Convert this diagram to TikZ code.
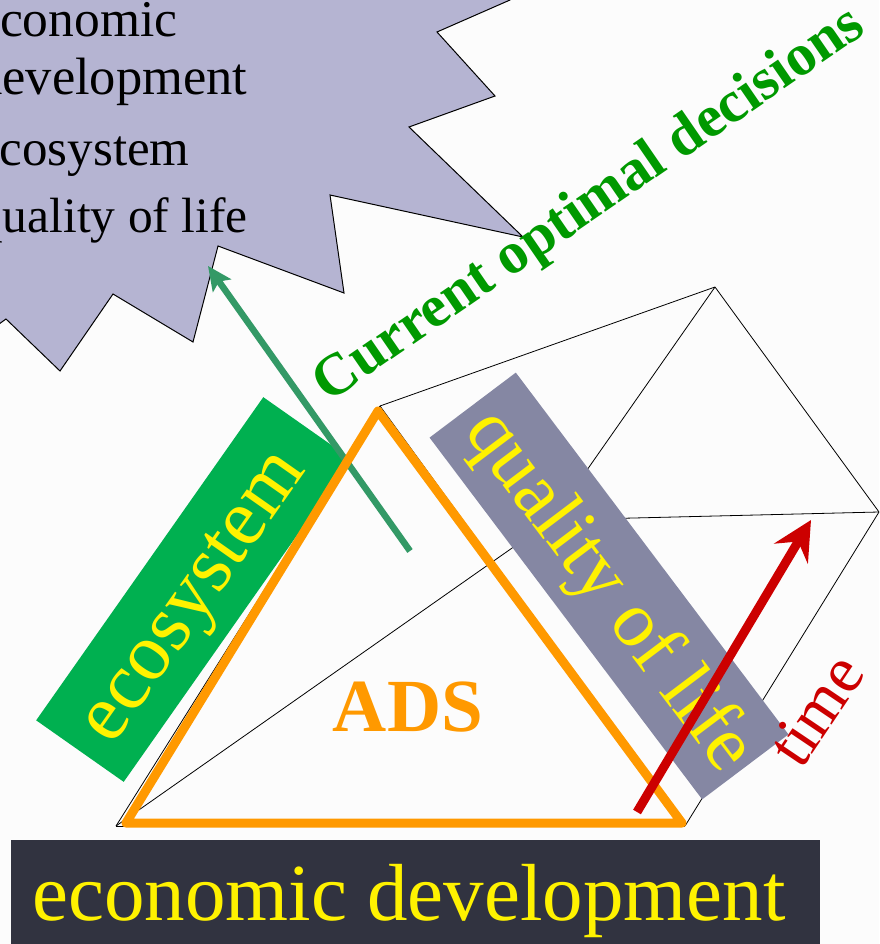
\documentclass[tikz,border=0pt]{standalone}
\usepackage{fontspec}
\setmainfont{Liberation Serif}
\usetikzlibrary{arrows.meta}

\definecolor{pageback}{HTML}{FCFCFC}
\definecolor{starfill}{HTML}{B5B4D2}
\definecolor{ecogreen}{HTML}{00B050}
\definecolor{lifegrey}{HTML}{8587A3}
\definecolor{econdark}{HTML}{313340}
\definecolor{adsorange}{HTML}{FF9900}
\definecolor{timered}{HTML}{CC0000}
\definecolor{goalgreen}{HTML}{009900}
\definecolor{pathgreen}{HTML}{339966}

\newcommand{\fsize}[1]{\fontsize{#1}{#1}\selectfont}

\begin{document}
\begin{tikzpicture}[
            x=1pt,
            y=-1pt,
            banner/.style={rotate=#1, inner sep=0pt, text=yellow},
            listitem/.style={anchor=base west, inner sep=0pt, text=black, font=\fsize{#1}},
            prism/.style={draw=black, line width=0.8pt},
            slab/.style={inner sep=0pt, outer sep=0pt}
        ]
        \useasboundingbox (0,0) rectangle (879,944);
        \clip (0,0) rectangle (879,944);
        \fill[pageback] (0,0) rectangle (879,944);

        % Burst with the list
        \filldraw[fill=starfill, draw=black, line width=1pt]
        (-30,-20) -- (520,-20) -- (510,0) -- (437,32) -- (495,96) -- (409,127) -- (523,237)
        -- (330,195) -- (344,293) -- (218,246) -- (193,342) -- (113,294) -- (60,371)
        -- (6,319) -- (-30,345) -- cycle;
        \node[listitem=51.5] (itemecon) at (-23,37) {economic};
        \node[listitem=52.5] (itemdev) at (-24,95) {development};
        \node[listitem=51] (itemeco) at (-23,165) {ecosystem};
        \node[listitem=49.5] (itemlife) at (-22,232) {quality of life};

        % Prism corners
        \coordinate (a) at (116,826);
        \coordinate (b) at (685,826);
        \coordinate (c) at (380,406);
        \coordinate (d) at (715,287);
        \coordinate (e) at (879,512);
        \coordinate (f) at (552,520);

        % Prism edges
        \path[prism]
        (a) edge (b)
        (a) edge (c)
        (c) edge (b)
        (c) edge (d)
        (d) edge (e)
        (e) edge (b)
        (a) edge (f)
        (f) edge (e)
        (f) edge (d);

        % Side labels
        \node[slab, fill=ecogreen, rotate=54.9, minimum width=395pt, minimum height=107pt] (ecoslab) at (193.5,589.5) {};
        \node[banner=54.9, font=\fsize{81}] (ecolabel) at (198,600) {ecosystem};
        \node[slab, fill=lifegrey, rotate=-53, minimum width=453pt, minimum height=108pt] (lifeslab) at (609,586) {};
        \node[banner=-53, font=\fsize{79}] (lifelabel) at (608,592) {quality of life};
        \node[slab, fill=econdark, anchor=north west, minimum width=809pt, minimum height=110pt] (econslab) at (11,840) {};
        \node[anchor=base, inner sep=0pt, text=yellow, font=\fsize{81}] (econlabel) at (409,920) {economic development};

        % Arrow out of the triangle
        \coordinate (pathstart) at (410,551);
        \coordinate (pathend) at (208,266);
        \draw[-{Stealth[length=24pt, width=22pt, inset=5pt]}, pathgreen, line width=6.5pt] (pathstart) -- (pathend);

        % Triangle
        \coordinate (adsa) at (126,823);
        \coordinate (adsb) at (682,823);
        \coordinate (adsc) at (378,411);
        \draw[adsorange, line width=9pt, line join=round] (adsa) -- (adsb) -- (adsc) -- cycle;
        \node[inner sep=0pt, text=adsorange, font=\fsize{75}\bfseries] (adslabel) at (408,707) {ADS};

        % Time arrow
        \coordinate (timestart) at (637,812);
        \coordinate (timeend) at (811,520);
        \draw[-{Stealth[length=39pt, width=39pt, inset=14pt]}, timered, line width=9pt] (timestart) -- (timeend);
        \node[inner sep=0pt, text=timered, rotate=56, font=\fsize{66}] (timelabel) at (816,710) {time};

        \node[inner sep=0pt, text=goalgreen, rotate=34.5, font=\fsize{59}\bfseries] (goallabel) at (590,206) {Current optimal decisions};

        \end{tikzpicture}
\end{document}
